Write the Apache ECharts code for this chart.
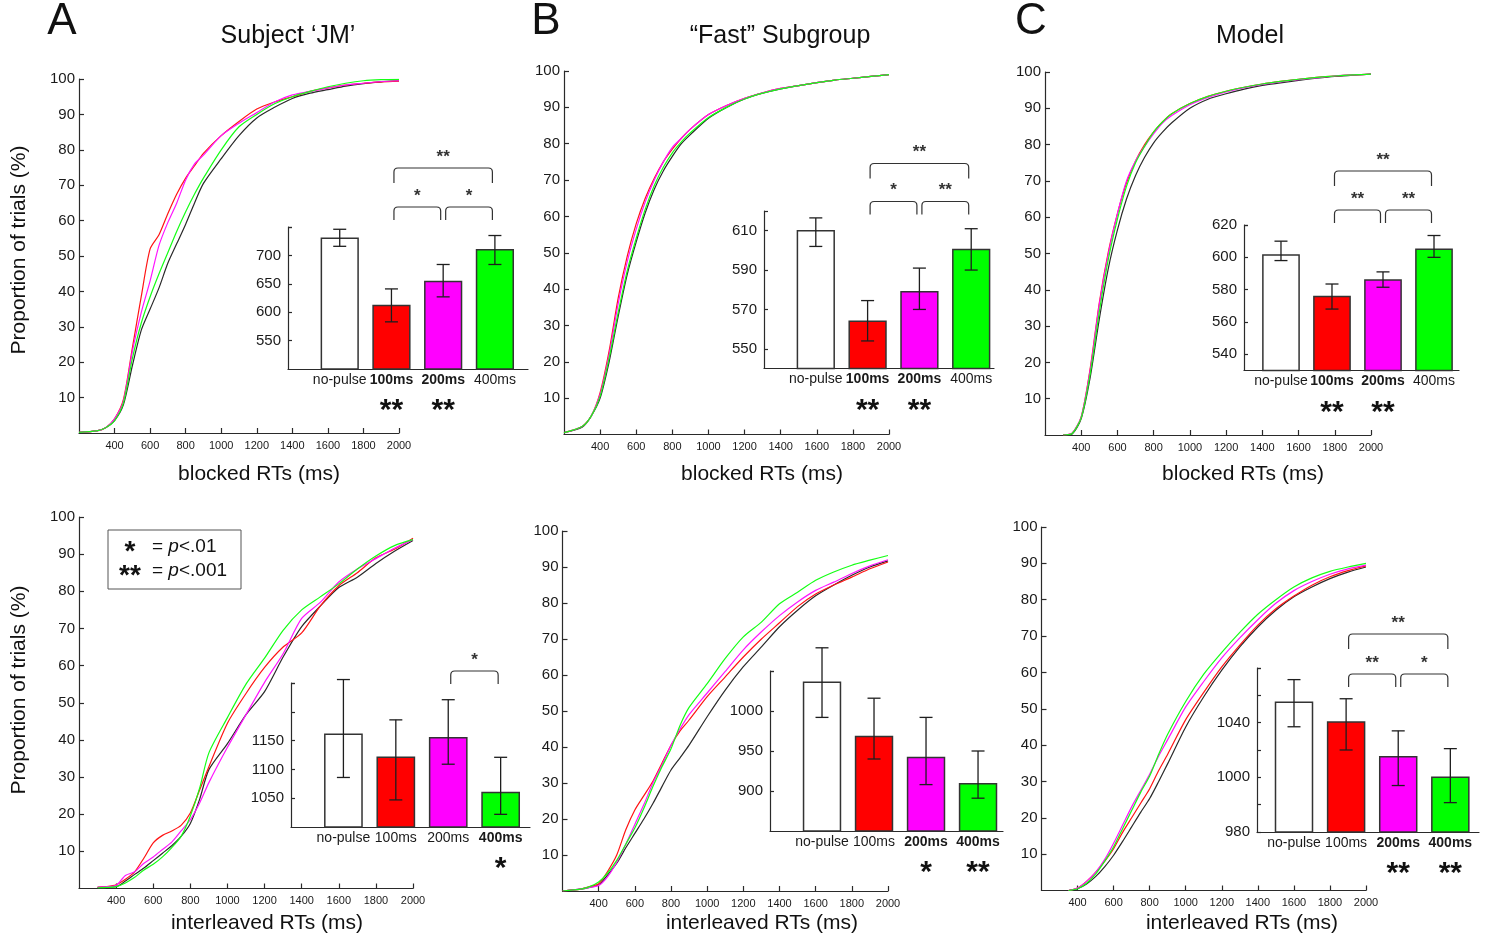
<!DOCTYPE html>
<html>
<head>
<meta charset="utf-8">
<script src="https://cdn.jsdelivr.net/npm/echarts@6/dist/echarts.min.js"></script>
<style>
  html, body { margin: 0; padding: 0; background: #ffffff; }
  #chart { width: 1489px; height: 939px; }
</style>
</head>
<body>
<div id="chart"></div>
<script>
// ---------- shared labels ----------
const FONT = '"Liberation Sans", Arial, Helvetica, sans-serif';
const conditions = ['no-pulse', '100ms', '200ms', '400ms'];
const curveColors = ['#2a2a2a', '#ff1414', '#ff14ff', '#14ff14'];
const barColors = ['#ffffff', '#ff0000', '#ff00ff', '#00ff00'];

const rtGrid = [200, 300, 350, 400, 450, 500, 550, 600, 650, 700, 750, 800, 850, 900,
                1000, 1100, 1200, 1300, 1400, 1500, 1600, 1700, 1800, 1900, 2000];
const cdfTicksX = [400, 600, 800, 1000, 1200, 1400, 1600, 1800, 2000];
const cdfTicksY = [10, 20, 30, 40, 50, 60, 70, 80, 90, 100];

// ---------- cumulative RT distributions (% of trials) ----------
// A: subject JM, blocked
const jmBlockedNoPulse = [0.2, 0.6, 1.5, 3.5, 8, 19, 29, 35, 41, 48, 53.5, 59, 65, 70.5, 77.5, 84, 89, 92, 94.5, 96, 97, 98, 98.7, 99.2, 99.5];
const jmBlocked100 = [0.2, 0.6, 1.5, 4, 9.5, 24, 38.5, 52, 56, 62, 67.5, 72, 75.5, 79, 84, 88, 91.5, 93.5, 95, 96.5, 97.5, 98.3, 98.8, 99.2, 99.4];
const jmBlocked200 = [0.2, 0.6, 1.5, 4, 9, 23, 34, 43, 53, 59.5, 65, 71.5, 76, 78.5, 84, 87.5, 90.5, 93.5, 95.5, 96.5, 97.5, 98.3, 98.8, 99.3, 99.5];
const jmBlocked400 = [0.2, 0.6, 1.5, 3.5, 8.5, 21, 31, 38.5, 45, 51, 57, 62.5, 67.5, 72, 80, 86.5, 90, 93, 95, 96.5, 97.8, 98.8, 99.5, 99.8, 99.9];
// B: "fast" subgroup, blocked
const fastBlockedNoPulse = [0.5, 2, 5, 10, 20, 32.5, 44, 53, 61, 67.5, 72.5, 76.5, 80, 82.5, 87, 90, 92.3, 93.9, 95.1, 96, 96.8, 97.5, 98, 98.5, 99];
const fastBlocked100 = [0.5, 2.2, 5, 11.5, 23, 37.5, 49, 58, 65, 70.5, 75, 78.5, 81.5, 84, 88, 90.5, 92.5, 94, 95.2, 96, 96.8, 97.5, 98, 98.5, 99];
const fastBlocked200 = [0.5, 2.2, 5, 11, 22, 36, 47.5, 56.5, 64, 70, 75, 79, 81.5, 84, 88, 90.5, 92.5, 94, 95.2, 96, 96.8, 97.5, 98, 98.5, 99];
const fastBlocked400 = [0.5, 2.2, 5, 10.5, 21, 33.5, 45, 54, 62, 68.5, 73.5, 77.5, 80.5, 83, 87.2, 90, 92.3, 93.9, 95.1, 96, 96.8, 97.5, 98, 98.5, 99];
// C: model, blocked
const modelBlockedNoPulse = [null, 0, 0.3, 4.5, 16, 32, 46, 56.5, 65, 71.5, 76.5, 80.5, 83.5, 86, 90, 92.5, 94, 95.3, 96.3, 97, 97.7, 98.3, 98.8, 99.1, 99.4];
const modelBlocked100 = [null, 0, 0.5, 5, 18.5, 36.5, 50.5, 61, 69.5, 75.5, 80, 83.5, 86.3, 88.5, 91.3, 93.3, 94.7, 95.8, 96.7, 97.4, 98, 98.5, 98.9, 99.2, 99.4];
const modelBlocked200 = [null, 0, 0.5, 5, 18, 36, 50, 61, 70, 75.5, 79.5, 83, 86, 88, 91, 93, 94.5, 95.7, 96.6, 97.3, 97.9, 98.4, 98.9, 99.2, 99.4];
const modelBlocked400 = [null, 0, 0.4, 4.8, 17, 34, 48.5, 59.5, 68.5, 75, 79.5, 83.5, 86.3, 88.5, 91.3, 93.3, 94.7, 95.8, 96.7, 97.4, 98, 98.5, 98.9, 99.2, 99.4];
// A: subject JM, interleaved
const jmMixedNoPulse = [null, 0.3, 0.4, 0.5, 2, 3.8, 5.5, 7.5, 9.5, 11.5, 14, 17.5, 24, 32, 39, 46.8, 53, 62.3, 70.5, 76, 81, 83.8, 87.5, 90.8, 93.7];
const jmMixed100 = [null, 0.3, 0.5, 1, 2.5, 4.5, 8.2, 12.3, 14.3, 15.5, 17, 20.3, 26.5, 32.8, 44.5, 52.5, 59.5, 65, 68.8, 76, 81.5, 85, 89, 91.3, 94.3];
const jmMixed200 = [null, 0.3, 0.5, 0.8, 3.5, 4.5, 6.8, 8.5, 10.5, 12.5, 15.5, 18.5, 23, 28.5, 38, 46.8, 55.5, 63.2, 72.7, 77, 82.5, 86, 88.8, 91.6, 93.9];
const jmMixed400 = [null, 0.2, 0.3, 0.5, 1.5, 3, 5, 6.5, 8.5, 11, 14, 19.5, 27, 36.5, 46, 55, 62, 69.5, 75, 78.5, 82, 86, 89.5, 92.3, 93.9];
// B: "fast" subgroup, interleaved
const fastMixedNoPulse = [0, 0.5, 1, 1.7, 4.5, 7.7, 12, 16, 20, 24.3, 29, 33.6, 37, 40.5, 48.4, 55.8, 62.3, 67.8, 73.4, 78, 82, 85, 87.7, 90, 91.7];
const fastMixed100 = [0, 0.5, 1.2, 2, 5.5, 10, 17, 22.5, 26.5, 30.5, 35.5, 40.5, 44.5, 47.5, 54, 59.5, 65, 70, 74.5, 79, 82.5, 85, 87.2, 89.5, 91.4];
const fastMixed200 = [0, 0.5, 1, 1.5, 4, 8, 13, 18.5, 24, 30, 35, 40.5, 45, 49, 55, 61, 67, 72, 76.5, 80.3, 83.5, 85.8, 88.2, 90.3, 92];
const fastMixed400 = [0, 0.5, 1.2, 2.5, 5, 8.5, 13, 17.5, 23, 29, 34.5, 39.5, 46, 51, 57.6, 64.6, 70.6, 74.7, 79.8, 83, 86.3, 88.6, 90.5, 91.9, 93.2];
// C: model, interleaved
const modelMixedNoPulse = [null, null, 0, 0.5, 1.8, 3.8, 6.5, 9.7, 13.5, 17.5, 21.5, 25.3, 30, 34.9, 45, 53.3, 60.6, 67, 72.5, 77.1, 80.8, 83.5, 85.8, 87.6, 89];
const modelMixed100 = [null, null, 0, 0.7, 2.5, 5, 8, 11.5, 16, 20, 24, 28, 33, 37.5, 47, 54.5, 61.5, 67.5, 73, 77.5, 81, 84, 86.3, 88, 89.3];
const modelMixed200 = [null, null, 0, 0.7, 2.5, 5, 8.5, 13, 18, 23, 27.5, 32, 37, 41.5, 50.5, 57.5, 64, 69.5, 74.5, 79, 82.5, 85, 87, 88.5, 89.5];
const modelMixed400 = [null, null, 0, 0.5, 2, 4.5, 8, 12, 17, 22, 27, 31.5, 37.5, 43, 52, 59.5, 65.5, 71, 76, 80, 83.5, 86, 87.8, 89, 90];

// ---------- mean RTs (ms) with error-bar limits ----------
const jmBlockedMean = [730, 612, 654, 710];
const jmBlockedLo = [716, 583, 627, 684];
const jmBlockedHi = [746, 641, 684, 735];
const jmBlockedStars = ['', '**', '**', ''];
const jmBlockedPairs = [[2, 3, '*'], [3, 4, '*'], [2, 4, '**']];
const jmBlockedAxisTicks = [550, 600, 650, 700];

const fastBlockedMean = [610, 564, 579, 600.5];
const fastBlockedLo = [602, 554, 570, 590];
const fastBlockedHi = [616.5, 574.5, 591, 611];
const fastBlockedStars = ['', '**', '**', ''];
const fastBlockedPairs = [[2, 3, '*'], [3, 4, '**'], [2, 4, '**']];
const fastBlockedAxisTicks = [550, 570, 590, 610];

const modelBlockedMean = [601.5, 575.7, 586, 605];
const modelBlockedLo = [598, 568, 581.5, 600];
const modelBlockedHi = [610, 583.5, 591, 613.5];
const modelBlockedStars = ['', '**', '**', ''];
const modelBlockedPairs = [[2, 3, '**'], [3, 4, '**'], [2, 4, '**']];
const modelBlockedAxisTicks = [540, 560, 580, 600, 620];

const jmMixedMean = [1161, 1121, 1155, 1060];
const jmMixedLo = [1086, 1047, 1109, 1022];
const jmMixedHi = [1256, 1186, 1221, 1121];
const jmMixedStars = ['', '', '', '*'];
const jmMixedPairs = [[3, 4, '*']];
const jmMixedAxisTicks = [1050, 1100, 1150];

const fastMixedMean = [1036, 968, 942, 909];
const fastMixedLo = [992, 940, 908, 891];
const fastMixedHi = [1079, 1016, 992, 950];
const fastMixedStars = ['', '', '*', '**'];
const fastMixedPairs = [];
const fastMixedAxisTicks = [900, 950, 1000];

const modelMixedMean = [1055, 1040.5, 1015, 1000];
const modelMixedLo = [1037, 1020, 994, 981.5];
const modelMixedHi = [1071.5, 1057.5, 1034, 1021];
const modelMixedStars = ['', '', '**', '**'];
const modelMixedPairs = [[2, 3, '**'], [3, 4, '*'], [2, 4, '**']];
const modelMixedAxisTicks = [960, 1000, 1040];
const modelMixedAxisText = ['980', '1000', '1040'];

// ---------- panel layout ----------
const panels = [
  { grid: { left: 79, top: 79, width: 320, height: 354 },
    curves: [jmBlockedNoPulse, jmBlocked100, jmBlocked200, jmBlocked400],
    inset: { grid: { left: 288, top: 227, width: 240, height: 142 }, xMin: 0, xMax: 4.64,
             yMin: 500, yMax: 750, minorStep: 50, labels: jmBlockedAxisTicks,
             mean: jmBlockedMean, lo: jmBlockedLo, hi: jmBlockedHi, stars: jmBlockedStars,
             pairs: jmBlockedPairs, bracketTop: [207, 168] } },
  { grid: { left: 564, top: 71, width: 325, height: 363.5 },
    curves: [fastBlockedNoPulse, fastBlocked100, fastBlocked200, fastBlocked400],
    inset: { grid: { left: 764, top: 211, width: 230, height: 157.5 }, xMin: 0, xMax: 4.44,
             yMin: 540, yMax: 620, minorStep: 20, tickStart: 550, labels: fastBlockedAxisTicks,
             mean: fastBlockedMean, lo: fastBlockedLo, hi: fastBlockedHi, stars: fastBlockedStars,
             pairs: fastBlockedPairs, bracketTop: [201.5, 163.5] } },
  { grid: { left: 1045, top: 72, width: 326, height: 363 },
    curves: [modelBlockedNoPulse, modelBlocked100, modelBlocked200, modelBlocked400],
    inset: { grid: { left: 1244, top: 225, width: 215, height: 145.5 }, xMin: 0.275, xMax: 4.49,
             yMin: 530, yMax: 620, minorStep: 20, tickStart: 540, labels: modelBlockedAxisTicks,
             mean: modelBlockedMean, lo: modelBlockedLo, hi: modelBlockedHi, stars: modelBlockedStars,
             pairs: modelBlockedPairs, bracketTop: [210, 171] } },
  { grid: { left: 79, top: 517, width: 334, height: 371.5 },
    curves: [jmMixedNoPulse, jmMixed100, jmMixed200, jmMixed400],
    inset: { grid: { left: 291, top: 683, width: 239, height: 144 }, xMin: 0, xMax: 4.56,
             yMin: 1000, yMax: 1250, minorStep: 50, labels: jmMixedAxisTicks,
             mean: jmMixedMean, lo: jmMixedLo, hi: jmMixedHi, stars: jmMixedStars,
             pairs: jmMixedPairs, bracketTop: [671, 632] } },
  { grid: { left: 562.5, top: 531, width: 325.5, height: 360 },
    curves: [fastMixedNoPulse, fastMixed100, fastMixed200, fastMixed400],
    inset: { grid: { left: 770, top: 671, width: 233, height: 160 }, xMin: 0, xMax: 4.48,
             yMin: 850, yMax: 1050, minorStep: 50, labels: fastMixedAxisTicks,
             mean: fastMixedMean, lo: fastMixedLo, hi: fastMixedHi, stars: fastMixedStars,
             pairs: fastMixedPairs, bracketTop: [655, 615] } },
  { grid: { left: 1041.5, top: 527, width: 324.5, height: 363.5 },
    curves: [modelMixedNoPulse, modelMixed100, modelMixed200, modelMixed400],
    inset: { grid: { left: 1257, top: 668, width: 222, height: 164 }, xMin: 0.29, xMax: 4.55,
             yMin: 960, yMax: 1080, minorStep: 20, labels: modelMixedAxisTicks, labelText: modelMixedAxisText,
             mean: modelMixedMean, lo: modelMixedLo, hi: modelMixedHi, stars: modelMixedStars,
             pairs: modelMixedPairs, bracketTop: [674, 634] } }
];

// ---------- option assembly ----------
const grids = [], xAxes = [], yAxes = [], series = [];
const axisLineStyle = { color: '#2a2a2a', width: 1.2 };
const plainNumber = function (v) { return String(v); };

function tickRange(start, end, step) {
  const out = [];
  for (let v = start; v <= end + 1e-9; v += step) out.push(v);
  return out;
}

function barRenderer(ins) {
  return function (params, api) {
    const i = params.dataIndex;
    const idx = api.value(0);
    const base = api.coord([idx, ins.yMin]);
    const top = api.coord([idx, api.value(1)]);
    const pLo = api.coord([idx, api.value(2)]);
    const pHi = api.coord([idx, api.value(3)]);
    const w = api.size([0.71, 0])[0];
    const cx = base[0];
    const star = ins.stars[i];
    const ink = { stroke: '#1e1e1e', lineWidth: 1.3 };
    const children = [
      { type: 'rect', shape: { x: cx - w / 2, y: top[1], width: w, height: base[1] - top[1] },
        style: { fill: barColors[i], stroke: '#333333', lineWidth: 1.5 } },
      { type: 'line', shape: { x1: cx, y1: pHi[1], x2: cx, y2: pLo[1] }, style: ink },
      { type: 'line', shape: { x1: cx - 6.5, y1: pHi[1], x2: cx + 6.5, y2: pHi[1] }, style: ink },
      { type: 'line', shape: { x1: cx - 6.5, y1: pLo[1], x2: cx + 6.5, y2: pLo[1] }, style: ink },
      { type: 'text', style: { text: conditions[i], x: cx, y: base[1] + 11,
          textAlign: 'center', textVerticalAlign: 'middle', align: 'center', verticalAlign: 'middle',
          font: (star ? 'bold ' : '') + '14px ' + FONT, fill: '#1a1a1a' } }
    ];
    if (star) {
      children.push({ type: 'text', style: { text: star, x: cx, y: base[1] + 42,
          textAlign: 'center', textVerticalAlign: 'middle', align: 'center', verticalAlign: 'middle',
          font: 'bold 30px ' + FONT, fill: '#111111' } });
    }
    return { type: 'group', children: children };
  };
}

function bracketRenderer(ins) {
  return function (params, api) {
    const pair = ins.pairs[params.dataIndex];
    const level = pair[1] - pair[0];
    const x1 = api.coord([pair[0], ins.yMin])[0] + 2.5;
    const x2 = api.coord([pair[1], ins.yMin])[0] - 2.5;
    const yTop = ins.bracketTop[level - 1];
    const yLeg = yTop + (level === 1 ? 13 : 15);
    const r = 4;
    const d = 'M' + x1 + ' ' + yLeg + 'L' + x1 + ' ' + (yTop + r) +
              'Q' + x1 + ' ' + yTop + ' ' + (x1 + r) + ' ' + yTop +
              'L' + (x2 - r) + ' ' + yTop +
              'Q' + x2 + ' ' + yTop + ' ' + x2 + ' ' + (yTop + r) +
              'L' + x2 + ' ' + yLeg;
    return { type: 'group', children: [
      { type: 'path', shape: { pathData: d }, style: { fill: 'none', stroke: '#333333', lineWidth: 1.2 } },
      { type: 'text', style: { text: pair[2], x: (x1 + x2) / 2, y: yTop - 11,
          textAlign: 'center', textVerticalAlign: 'middle', align: 'center', verticalAlign: 'middle',
          font: 'bold 17px ' + FONT, fill: '#333333' } }
    ] };
  };
}

panels.forEach(function (p) {
  // cumulative distribution plot
  const g = grids.length;
  grids.push(Object.assign({ containLabel: false }, p.grid));
  xAxes.push({
    type: 'value', gridIndex: g, min: 200, max: 2000,
    axisLine: { show: true, onZero: false, lineStyle: axisLineStyle },
    axisTick: { show: true, inside: true, length: 5, customValues: cdfTicksX, lineStyle: axisLineStyle },
    axisLabel: { customValues: cdfTicksX, formatter: plainNumber, fontSize: 11, margin: 7,
                 color: '#1a1a1a', fontFamily: FONT },
    splitLine: { show: false }
  });
  yAxes.push({
    type: 'value', gridIndex: g, min: 0, max: 100,
    axisLine: { show: true, onZero: false, lineStyle: axisLineStyle },
    axisTick: { show: true, inside: true, length: 5, customValues: cdfTicksY, lineStyle: axisLineStyle },
    axisLabel: { customValues: cdfTicksY, formatter: plainNumber, fontSize: 15, margin: 4,
                 color: '#1a1a1a', fontFamily: FONT },
    splitLine: { show: false }
  });
  p.curves.forEach(function (vals, k) {
    const pts = [];
    rtGrid.forEach(function (rt, j) { if (vals[j] !== null) pts.push([rt, vals[j]]); });
    series.push({
      type: 'line', xAxisIndex: g, yAxisIndex: g, data: pts,
      showSymbol: false, smooth: 0.25,
      lineStyle: { color: curveColors[k], width: 1.2 }, z: 2 + (k === 0 ? 0 : 1),
      silent: true
    });
  });

  // inset bar plot
  const ins = p.inset;
  const h = grids.length;
  grids.push(Object.assign({ containLabel: false }, ins.grid));
  xAxes.push({
    type: 'value', gridIndex: h, min: ins.xMin, max: ins.xMax,
    axisLine: { show: true, onZero: false, lineStyle: axisLineStyle },
    axisTick: { show: false }, axisLabel: { show: false }, splitLine: { show: false }
  });
  const tickVals = tickRange(ins.tickStart !== undefined ? ins.tickStart : ins.labels[0],
                             ins.yMax, ins.minorStep).concat([ins.yMax]);
  yAxes.push({
    type: 'value', gridIndex: h, min: ins.yMin, max: ins.yMax,
    axisLine: { show: true, onZero: false, lineStyle: axisLineStyle },
    axisTick: { show: true, inside: true, length: 4, customValues: tickVals, lineStyle: axisLineStyle },
    axisLabel: {
      customValues: ins.labels, fontSize: 15, margin: 7, color: '#1a1a1a', fontFamily: FONT,
      formatter: function (v) {
        const j = ins.labels.indexOf(v);
        return ins.labelText && j >= 0 ? ins.labelText[j] : String(v);
      }
    },
    splitLine: { show: false }
  });
  series.push({
    type: 'custom', xAxisIndex: h, yAxisIndex: h, clip: false, z: 5,
    data: ins.mean.map(function (m, i) { return [i + 1, m, ins.lo[i], ins.hi[i]]; }),
    encode: { x: 0, y: 1 },
    renderItem: barRenderer(ins)
  });
  if (ins.pairs.length) {
    series.push({
      type: 'custom', xAxisIndex: h, yAxisIndex: h, clip: false, z: 5,
      data: ins.pairs.map(function (pr) { return [pr[0], ins.yMin]; }),
      encode: { x: 0, y: 1 },
      renderItem: bracketRenderer(ins)
    });
  }
});

// ---------- titles and annotation text ----------
function txt(text, x, y, font, extra) {
  return Object.assign({
    type: 'text', x: x, y: y, silent: true,
    style: { text: text, font: font, fill: '#111111', textAlign: 'center', textVerticalAlign: 'middle',
             align: 'center', verticalAlign: 'middle' }
  }, extra || {});
}
const graphics = [
  txt('A', 62, 22, '44px ' + FONT),
  txt('B', 546, 22, '44px ' + FONT),
  txt('C', 1031, 22, '44px ' + FONT),
  txt('Subject \u2018JM\u2019', 288, 36, '25px ' + FONT),
  txt('\u201CFast\u201D Subgroup', 780, 36, '25px ' + FONT),
  txt('Model', 1250, 36, '25px ' + FONT),
  txt('blocked RTs (ms)', 259, 474, '21px ' + FONT),
  txt('blocked RTs (ms)', 762, 474, '21px ' + FONT),
  txt('blocked RTs (ms)', 1243, 474, '21px ' + FONT),
  txt('interleaved RTs (ms)', 267, 923, '21px ' + FONT),
  txt('interleaved RTs (ms)', 762, 923, '21px ' + FONT),
  txt('interleaved RTs (ms)', 1242, 923, '21px ' + FONT),
  txt('Proportion of trials (%)', 19, 250, '21px ' + FONT, { rotation: Math.PI / 2 }),
  txt('Proportion of trials (%)', 19, 690, '21px ' + FONT, { rotation: Math.PI / 2 }),
  { type: 'rect', shape: { x: 108, y: 530, width: 133, height: 59 }, silent: true,
    style: { fill: '#ffffff', stroke: '#555555', lineWidth: 1 } },
  txt('*', 130, 552, 'bold 28px ' + FONT),
  txt('**', 130, 576, 'bold 28px ' + FONT),
  { type: 'text', x: 152, y: 547, silent: true,
    style: { text: '= {i|p}<.01', font: '19px ' + FONT, fill: '#111111', textVerticalAlign: 'middle', verticalAlign: 'middle',
             rich: { i: { fontStyle: 'italic', fontSize: 19, fontFamily: FONT } } } },
  { type: 'text', x: 152, y: 571, silent: true,
    style: { text: '= {i|p}<.001', font: '19px ' + FONT, fill: '#111111', textVerticalAlign: 'middle', verticalAlign: 'middle',
             rich: { i: { fontStyle: 'italic', fontSize: 19, fontFamily: FONT } } } }
];

const chart = echarts.init(document.getElementById('chart'), null, { renderer: 'canvas' });
chart.setOption({
  backgroundColor: '#ffffff',
  animation: false,
  textStyle: { fontFamily: FONT },
  grid: grids,
  xAxis: xAxes,
  yAxis: yAxes,
  series: series,
  graphic: graphics
});
</script>
</body>
</html>
